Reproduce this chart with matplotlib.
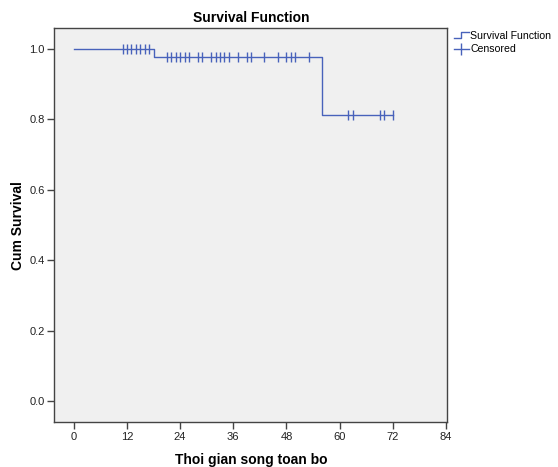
import numpy as np
import matplotlib
matplotlib.use('Agg')
import matplotlib.pyplot as plt
from matplotlib.lines import Line2D
from matplotlib.legend_handler import HandlerBase

plt.rcParams['font.family'] = ['Liberation Sans', 'DejaVu Sans']

# step points of the survival curve
step_times = [0, 18, 56]
step_surv = [1.0, 0.976, 0.813]
last_time = 72

# censored cases
censored = [11, 12, 13, 14, 15, 16, 17,
            21, 22, 23, 24, 25, 26, 28, 29, 31, 32, 33, 34, 35, 37, 39, 40,
            43, 46, 48, 49, 50, 53,
            62, 63, 69, 70, 72]

x_ticks = [0, 12, 24, 36, 48, 60, 72, 84]
y_ticks = [0.0, 0.2, 0.4, 0.6, 0.8, 1.0]

blue = '#4862bb'
frame = '#444444'


class StepHandler(HandlerBase):
    def create_artists(self, legend, orig_handle, xdescent, ydescent,
                       width, height, fontsize, trans):
        lo = -ydescent + height * 0.2
        hi = -ydescent + height * 0.9
        xs = np.array([0, 0.45, 0.45, 1.0]) * width - xdescent
        ys = [lo, lo, hi, hi]
        ln = Line2D(xs, ys, color=blue, lw=1, transform=trans)
        return [ln]


fig = plt.figure(figsize=(5.58, 4.67), dpi=100)
ax = fig.add_axes([0.0973, 0.0964, 0.7043, 0.8426])
ax.set_facecolor('#f0f0f0')

xs = list(step_times) + [last_time]
ys = list(step_surv) + [step_surv[-1]]
ax.step(xs, ys, where='post', color=blue, lw=1)

idx = np.searchsorted(step_times, censored, side='right') - 1
cy = np.array(step_surv)[idx]
ax.plot(censored, cy, linestyle='none', marker='|', markersize=7,
        markeredgewidth=1, color=blue)

ax.set_xlim(-4.4, 84.3)
ax.set_ylim(-0.059, 1.058)
ax.set_xticks(x_ticks)
ax.set_yticks(y_ticks)
ax.set_yticklabels(['%.1f' % v for v in y_ticks])
ax.tick_params(direction='out', length=5, width=1, color=frame,
               labelsize=8, labelcolor='#222222', pad=2)
for s in ax.spines.values():
    s.set_color(frame)
    s.set_linewidth(1)

ax.set_title('Survival Function', fontsize=10, fontweight='bold', pad=5)
ax.set_xlabel('Thoi gian song toan bo', fontsize=10, fontweight='bold', labelpad=8)
ax.set_ylabel('Cum Survival', fontsize=10, fontweight='bold', labelpad=3)

h1 = Line2D([], [], color=blue, lw=1)
h2 = Line2D([], [], color=blue, lw=1, marker='|', markersize=9)
fig.legend([h1, h2], ['Survival Function', 'Censored'],
           handler_map={h1: StepHandler()},
           loc='upper left', bbox_to_anchor=(453 / 558, 1 - 30 / 467),
           frameon=False, fontsize=7.6, handlelength=1.4, handletextpad=0.15,
           labelspacing=0.3, borderaxespad=0, borderpad=0.1, numpoints=1)

fig.savefig('out.png', dpi=100, facecolor='white')
